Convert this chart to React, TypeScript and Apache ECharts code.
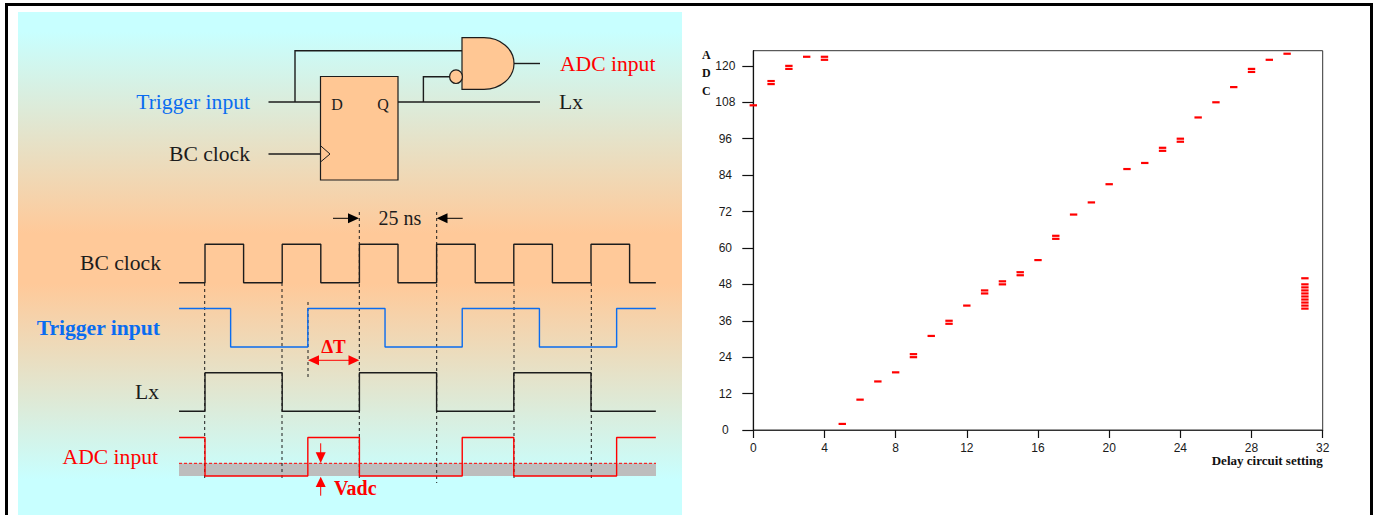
import React, { useEffect, useRef } from "react";
import * as echarts from "echarts";

// ---- Right plot data -------------------------------------------------
const delaySettings = [
  0, 1, 2, 3, 4, 5, 6, 7, 8, 9, 10, 11, 12, 13, 14, 15, 16, 17, 18, 19, 20, 21, 22, 23, 24, 25, 26, 27, 28, 29, 30, 31,
];
const adcReadings = [
  [107], [115, 114], [120, 119], [123], [123, 122], [2], [10], [16], [19], [25, 24], [31], [36, 35], [41], [46, 45],
  [49, 48], [52, 51], [56], [64, 63], [71], [75], [81], [86], [88], [93, 92], [96, 95], [103], [108], [113], [119, 118],
  [122], [124], [50, 48, 47, 46, 45, 44, 43, 42, 41, 40],
];
const yTickValues = [0, 12, 24, 36, 48, 60, 72, 84, 96, 108, 120];

// ---- Timing diagram data (ns, logic level) ---------------------------
const clockEdges = [-8.4, 0, 12.5, 25, 37.5, 50, 62.5, 75, 87.5, 100, 112.5, 125, 137.5, 146];
const clockLevels = [0, 1, 0, 1, 0, 1, 0, 1, 0, 1, 0, 1, 0, 0];
const triggerEdges = [-8.4, 8.3, 33.3, 58.3, 83.3, 108.3, 133.3, 146];
const triggerLevels = [1, 0, 1, 0, 1, 0, 1, 1];
const lxEdges = [-8.4, 0, 25, 50, 75, 100, 125, 146];
const lxLevels = [0, 1, 0, 1, 0, 1, 0, 0];
const adcEdges = [-8.4, 0, 33.3, 50, 83.3, 100, 133.3, 146];
const adcLevels = [1, 0, 1, 0, 1, 0, 1, 1];

const SERIF = '"Liberation Serif", serif';
const INK = "#1c1c1c";
const BLUE = "#0a6cf0";
const RED = "#ff0000";

echarts.graphic.registerShape(
  "andGate",
  echarts.graphic.extendPath("M462 37.7 H484 A30 25.8 0 0 1 484 89.3 H462 Z", {})
);

const wave = (name: string, edges: number[], levels: number[], base: number, color: string) => ({
  name,
  type: "line",
  xAxisIndex: 1,
  yAxisIndex: 1,
  step: "end",
  symbol: "none",
  clip: false,
  silent: true,
  lineStyle: { color, width: 1.4 },
  data: edges.map((t, i) => [t, base + 38.5 * levels[i]]),
});

const text = (s: string, x: number, y: number, size: number, fill: string, align = "right", bold = false) => ({
  type: "text",
  silent: true,
  style: {
    text: s,
    x,
    y,
    fill,
    textAlign: align,
    textVerticalAlign: "middle",
    font: `${bold ? "bold " : ""}${size}px ${SERIF}`,
  },
});
const line = (x1: number, y1: number, x2: number, y2: number, stroke = INK, lineWidth = 1.4, lineDash?: number[]) => ({
  type: "line",
  silent: true,
  shape: { x1, y1, x2, y2 },
  style: { stroke, lineWidth, lineDash },
});
const tri = (pts: number[][], fill: string) => ({
  type: "polygon",
  silent: true,
  shape: { points: pts },
  style: { fill },
});

const dash = [3, 3];

const graphicElements: any[] = [
  // panel and outer frame
  {
    type: "rect",
    silent: true,
    shape: { x: 18, y: 12, width: 664, height: 503 },
    style: {
      fill: new echarts.graphic.LinearGradient(0, 0, 0, 1, [
        { offset: 0, color: "#c8ffff" },
        { offset: 0.04, color: "#c8ffff" },
        { offset: 0.44, color: "#ffc999" },
        { offset: 0.54, color: "#ffc999" },
        { offset: 0.93, color: "#c8ffff" },
        { offset: 1, color: "#c8ffff" },
      ]),
    },
  },
  {
    type: "rect",
    silent: true,
    shape: { x: 6.5, y: 4.5, width: 1365, height: 530 },
    style: { fill: "none", stroke: "#000", lineWidth: 3 },
  },
  // circuit
  { type: "polyline", silent: true, shape: { points: [[295, 102], [295, 50.7], [462, 50.7]] }, style: { stroke: INK, lineWidth: 1.4, fill: "none" } },
  line(268.5, 102, 320.5, 102),
  line(398, 102, 540, 102),
  { type: "polyline", silent: true, shape: { points: [[423.4, 102], [423.4, 76.7], [450, 76.7]] }, style: { stroke: INK, lineWidth: 1.4, fill: "none" } },
  line(514, 63.5, 540, 63.5),
  line(268.5, 154, 320.5, 154),
  { type: "rect", silent: true, shape: { x: 320.5, y: 76.5, width: 77.5, height: 103.5 }, style: { fill: "#ffc794", stroke: INK, lineWidth: 1.2 } },
  { type: "polyline", silent: true, shape: { points: [[320.5, 145.7], [330, 154], [320.5, 162]] }, style: { stroke: INK, lineWidth: 1, fill: "none" } },
  { type: "andGate", silent: true, style: { fill: "#ffc794", stroke: INK, lineWidth: 1.2 } },
  { type: "ellipse", silent: true, shape: { cx: 456, cy: 76.7, rx: 6.4, ry: 6.8 }, style: { fill: "#ffc794", stroke: INK, lineWidth: 1.2 } },
  text("D", 337, 104, 16, INK, "center"),
  text("Q", 383, 104, 16, INK, "center"),
  text("Trigger input", 250, 102, 21.6, BLUE),
  text("BC clock", 250, 154, 21.6, INK),
  text("ADC input", 560, 64, 21.6, RED, "left"),
  text("Lx", 559, 102, 21.6, INK, "left"),
  // timing diagram annotations
  { type: "rect", silent: true, shape: { x: 179, y: 463.3, width: 477, height: 12.7 }, style: { fill: "#bdbdbd" } },
  line(179, 463.3, 656, 463.3, RED, 1, [3, 2]),
  line(204.7, 283, 204.7, 480, INK, 1, dash),
  line(282, 283, 282, 480, INK, 1, dash),
  line(359.3, 212, 359.3, 478, INK, 1, dash),
  line(436.7, 212, 436.7, 483, INK, 1, dash),
  line(514, 283, 514, 480, INK, 1, dash),
  line(591.3, 283, 591.3, 480, INK, 1, dash),
  line(308, 302, 308, 380, INK, 1, dash),
  // 25 ns arrows
  line(333, 218.3, 350, 218.3, "#000", 1),
  tri([[348, 213.3], [359, 218.3], [348, 223.3]], "#000"),
  line(446, 218.3, 462.7, 218.3, "#000", 1),
  tri([[447.5, 213.3], [436.7, 218.3], [447.5, 223.3]], "#000"),
  text("25 ns", 400, 218, 20, INK, "center"),
  // Delta T
  line(316, 360.3, 350, 360.3, RED, 1),
  tri([[319, 355.3], [308, 360.3], [319, 365.3]], RED),
  tri([[348.5, 355.3], [359.3, 360.3], [348.5, 365.3]], RED),
  text("\u0394T", 333.5, 346.5, 19, RED, "center", true),
  // Vadc arrows
  line(320.7, 443.3, 320.7, 454, RED, 1),
  tri([[315.7, 452.3], [320.7, 463], [325.7, 452.3]], RED),
  line(320.7, 485, 320.7, 495.7, RED, 1),
  tri([[315.7, 487], [320.7, 476.7], [325.7, 487]], RED),
  text("Vadc", 334, 488, 20, RED, "left", true),
  // row labels
  text("BC clock", 161, 263, 21.6, INK),
  text("Trigger input", 160, 328, 21.6, BLUE, "right", true),
  text("Lx", 159, 392, 21.6, INK),
  text("ADC input", 158, 457, 21.6, RED),
];

const axisText = { fontFamily: '"Liberation Sans", sans-serif', fontSize: 12, color: "#1a1a1a" };

export default function App() {
  const ref = useRef<HTMLDivElement>(null);
  useEffect(() => {
    document.body.style.margin = "0";
    document.body.style.overflow = "hidden";
    const chart = echarts.init(ref.current!, undefined, { renderer: "svg" });
    chart.setOption({
      animation: false,
      backgroundColor: "#fff",
      graphic: { elements: graphicElements },
      grid: [
        { left: 753.3, top: 50.7, width: 569.4, height: 379.3, show: true, borderColor: "#333", borderWidth: 1, backgroundColor: "transparent", containLabel: false },
        { left: 179, top: 244, width: 477, height: 232, containLabel: false },
      ],
      xAxis: [
        {
          gridIndex: 0,
          type: "value",
          min: 0,
          max: 32,
          interval: 4,
          name: "Delay circuit setting",
          nameLocation: "end",
          nameGap: 0,
          nameMoveOverlap: false,
          nameTextStyle: { fontFamily: SERIF, fontWeight: "bold", fontSize: 13, color: "#111", align: "right", verticalAlign: "top", padding: [24, 0, 0, 0] },
          splitLine: { show: false },
          axisLine: { show: true, lineStyle: { color: "#333", width: 1.2 } },
          axisTick: { show: true, inside: false, length: 8, lineStyle: { color: "#111", width: 1.2 } },
          axisLabel: { ...axisText, margin: 12 },
        },
        { gridIndex: 1, type: "value", show: false, min: -8.42, max: 146.05, splitLine: { show: false } },
      ],
      yAxis: [
        {
          gridIndex: 0,
          type: "value",
          min: 0,
          max: 125,
          name: "A\nD\nC",
          nameLocation: "end",
          nameGap: 5,
          nameMoveOverlap: false,
          nameTextStyle: { fontFamily: SERIF, fontWeight: "bold", fontSize: 12, lineHeight: 18, color: "#111", align: "center", verticalAlign: "top", padding: [0, 94, 0, 0] },
          splitLine: { show: false },
          axisLine: { show: true, lineStyle: { color: "#111", width: 1.2 } },
          axisTick: { show: true, inside: false, length: 11, customValues: yTickValues, lineStyle: { color: "#111", width: 1.2 } },
          axisLabel: { ...axisText, margin: 28, align: "center", customValues: yTickValues },
        },
        { gridIndex: 1, type: "value", show: false, min: 0, max: 232, splitLine: { show: false } },
      ],
      series: [
        {
          name: "ADC",
          type: "scatter",
          xAxisIndex: 0,
          yAxisIndex: 0,
          clip: false,
          silent: true,
          symbol: "rect",
          symbolSize: [7.4, 2.2],
          itemStyle: { color: RED, opacity: 1 },
          data: delaySettings.flatMap((s, i) => adcReadings[i].map((v) => [s, v])),
        },
        wave("BC clock", clockEdges, clockLevels, 193.3, INK),
        wave("Trigger input", triggerEdges, triggerLevels, 129, BLUE),
        wave("Lx", lxEdges, lxLevels, 64.7, INK),
        wave("ADC input", adcEdges, adcLevels, 0, RED),
      ],
    });
    return () => chart.dispose();
  }, []);
  return <div ref={ref} style={{ position: "absolute", left: 0, top: 0, width: 1381, height: 515 }} />;
}
